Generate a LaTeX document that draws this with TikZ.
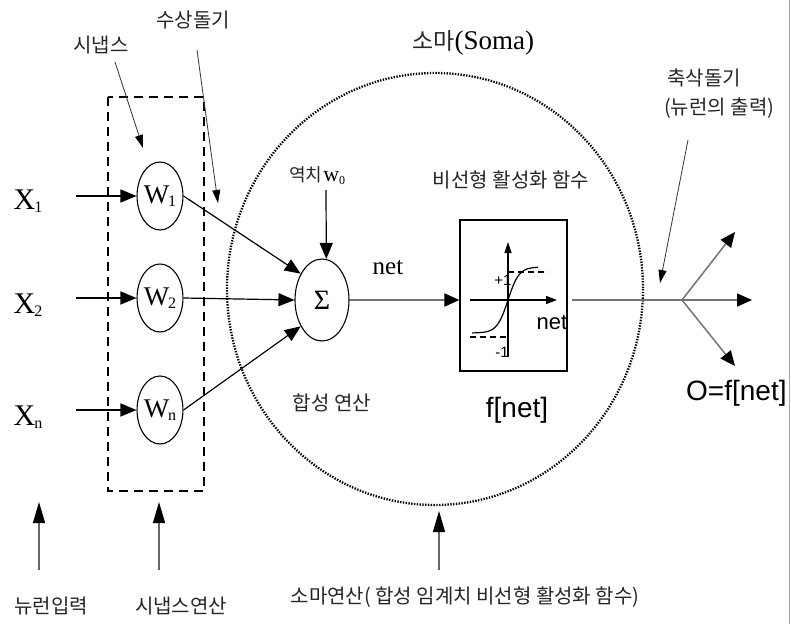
\documentclass[tikz,border=0pt]{standalone}
\usepackage{fontspec}
\setmainfont{Liberation Serif}
\newfontfamily\kr{Noto Sans CJK KR}
\newfontfamily\sansf{Liberation Sans}
\usetikzlibrary{arrows.meta,shapes.geometric}
\newcommand{\mysub}[1]{\kern-1pt\raisebox{-3pt}{\fontsize{16}{16}\selectfont #1}}
\begin{document}
\begin{tikzpicture}[x=1pt,y=-1pt,
  kor/.style={font=\kr\fontsize{20}{22}\selectfont, text=black!85, inner sep=0pt},
  syn/.style={draw, ellipse, line width=1.1pt, minimum width=45pt, minimum height=68pt, inner sep=0pt, font=\fontsize{27}{27}\selectfont},
  inp/.style={inner sep=0pt, font=\fontsize{30}{30}\selectfont},
  arr/.style={line width=1.4pt, -{Triangle[length=16pt,width=13pt]}},
  garr/.style={draw=black!55, line width=1.7pt, -{Triangle[length=15pt,width=13pt,color=black]}},
  barr/.style={draw=black!60, line width=1.2pt, -{Triangle[length=21pt,width=12pt,color=black]}},
  ptr/.style={draw=black!80, line width=0.8pt, -{Triangle[length=13pt,width=8pt,color=black]}},
]
\useasboundingbox (0,0) rectangle (791,624);
\fill[white] (0,0) rectangle (791,624);
\draw[black!35, line width=1pt] (789,0) -- (789,624);

% dashed synapse box and dotted soma
\draw[line width=2.8pt, dash pattern=on 9pt off 6pt] (108,97) rectangle (204,491);
\draw[line width=2.3pt, dash pattern=on 1.4pt off 1.4pt] (435,289) ellipse [x radius=208, y radius=216];

% inputs
\node[inp] (x1) at (28,201) {X\mysub{1}};
\node[inp] (x2) at (28,305) {X\mysub{2}};
\node[inp] (xn) at (28,417) {X\mysub{n}};
\coordinate (x1s) at (76,196);
\coordinate (x2s) at (76,298);
\coordinate (xns) at (76,410);

% synapses
\node[syn] (w1) at (160,196) {W\mysub{1}};
\node[syn] (w2) at (160,298) {W\mysub{2}};
\node[syn] (wn) at (160,410) {W\mysub{n}};

\draw[arr] (x1s) -- (w1.west);
\draw[arr] (x2s) -- (w2.west);
\draw[arr] (xns) -- (wn.west);

% summation
\node[draw, ellipse, line width=1.1pt, minimum width=54pt, minimum height=82pt, inner sep=0pt, font=\fontsize{28}{28}\selectfont] (sig) at (322,300) {Σ};
\draw[arr, line width=1.2pt] (w1.east) -- (sig.129);
\draw[arr, line width=1.2pt] (w2.east) -- (sig.west);
\draw[arr, line width=1.2pt] (wn.east) -- (sig.231);

% bias
\node[anchor=west, inner sep=0pt] (bias) at (289,176) {{\kr\fontsize{18}{18}\selectfont\color{black!85}역치}\kern1pt{\fontsize{22}{22}\selectfont w\raisebox{-3pt}{\fontsize{12}{12}\selectfont 0}}};
\coordinate (bs) at (326,190);
\draw[arr, line width=1.2pt] (bs) -- (sig.84);

% net
\node[inner sep=0pt, font=\fontsize{25}{25}\selectfont] (netl) at (388,268) {net};

% activation box
\node[draw, line width=1.2pt, minimum width=107pt, minimum height=151pt, inner sep=0pt] (fbox) at (513.5,295.5) {};
\draw[garr] (sig.east) -- (sig.east -| fbox.west);
\draw[line width=1.3pt, -{Triangle[length=11pt,width=8pt]}] (470,300) -- (557,300);
\draw[line width=1.2pt, -{Triangle[length=11pt,width=7pt]}] (508,357) -- (508,242);
\draw[line width=1.2pt, dash pattern=on 6pt off 4pt] (508,272) -- (548,272);
\draw[line width=1.2pt, dash pattern=on 6pt off 4pt] (470,337) -- (508,337);
\draw[line width=1.2pt, smooth] plot[domain=-36:30, samples=60] ({508+\x},{300-33*tanh(\x/11)});
\node[inner sep=0pt, font=\sansf\fontsize{15}{15}\selectfont] (plus) at (503,280) {+1};
\node[inner sep=0pt, font=\sansf\fontsize{15}{15}\selectfont] (minus) at (502,352) {-1};
\node[inner sep=0pt, font=\sansf\fontsize{22}{22}\selectfont] (netb) at (552,322) {net};
\node[inner sep=0pt, font=\sansf\fontsize{28}{28}\selectfont] (fnet) at (517,410) {f[net]};

% axon output
\coordinate (os) at (572,300);
\coordinate (br) at (682,300);
\coordinate (o1) at (735,232);
\coordinate (o2) at (752,300);
\coordinate (o3) at (735,366);
\draw[draw=black!55, line width=1.7pt] (os) -- (br);
\draw[garr, line width=1.5pt] (br) -- (o1);
\draw[garr] (br) -- (o2);
\draw[garr, line width=1.5pt] (br) -- (o3);
\node[anchor=west, inner sep=0pt, font=\sansf\fontsize{28}{28}\selectfont] (out) at (686,393) {O=f[net]};

% labels with pointers
\node[inner sep=0pt, anchor=west, font=\fontsize{27}{27}\selectfont] (soma) at (412,43) {{\kr\fontsize{23}{23}\selectfont\color{black!85}소마}(Soma)};
\node[kor] (synl) at (101,45) {시냅스};
\node[kor] (dend) at (193,20) {수상돌기};
\node[kor, anchor=west] (axon1) at (667,78) {축삭돌기};
\node[kor, anchor=west] (axon2) at (664,108) {(뉴런의 출력)};
\node[kor] (act) at (511,180) {비선형 활성화 함수};
\node[kor] (sum) at (332,403) {합성 연산};

\coordinate (p1s) at (115,62);  \coordinate (p1e) at (143,148);
\coordinate (p2s) at (197,50);  \coordinate (p2e) at (218,203);
\coordinate (p3s) at (688,140); \coordinate (p3e) at (660,283);
\draw[ptr] (p1s) -- (p1e);
\draw[ptr] (p2s) -- (p2e);
\draw[ptr] (p3s) -- (p3e);

% bottom labels
\node[kor] (b1) at (51,606) {뉴런입력};
\node[kor] (b2) at (181,606) {시냅스연산};
\node[kor] (b3) at (465,597) {소마연산( 합성 임계치 비선형 활성화 함수)};
\coordinate (b1s) at (39,570); \coordinate (b1e) at (39,502);
\coordinate (b2s) at (159,570); \coordinate (b2e) at (159,502);
\coordinate (b3s) at (439,570); \coordinate (b3e) at (439,511);
\draw[barr] (b1s) -- (b1e);
\draw[barr] (b2s) -- (b2e);
\draw[barr] (b3s) -- (b3e);
\end{tikzpicture}
\end{document}
